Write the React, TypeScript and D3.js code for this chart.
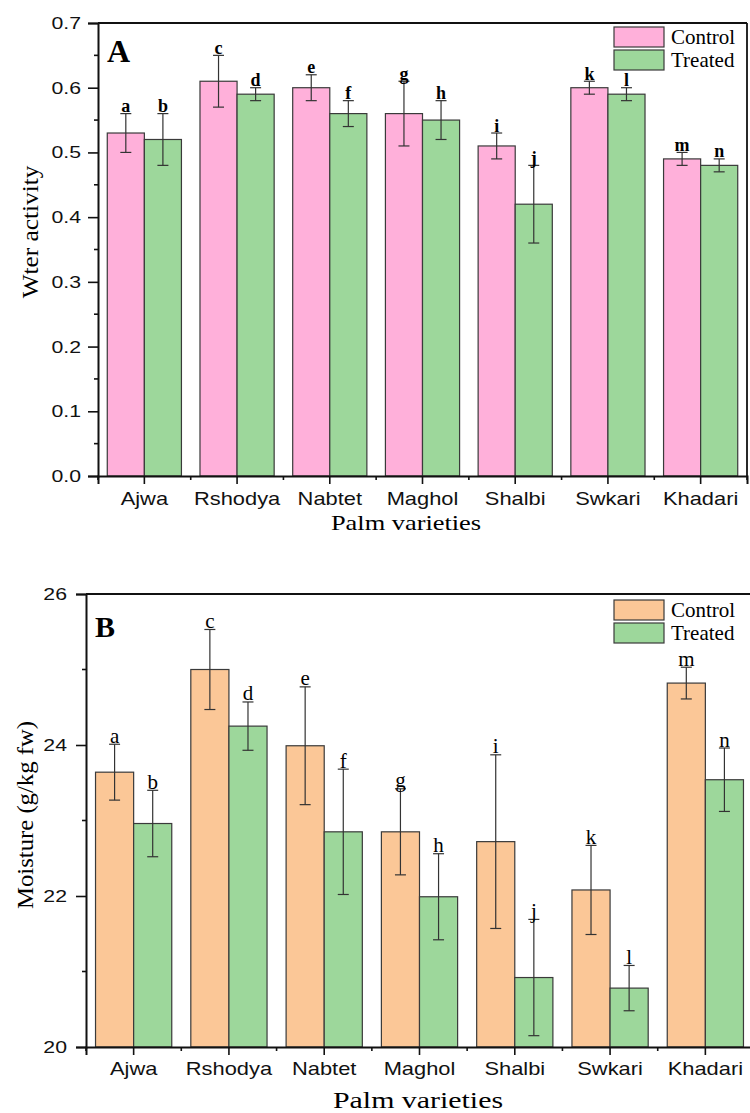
import { useEffect, useRef } from 'react';
import * as d3 from 'd3';

const varieties = ['Ajwa', 'Rshodya', 'Nabtet', 'Maghol', 'Shalbi', 'Swkari', 'Khadari'];
const seriesNames = ['Control', 'Treated'];

// Panel A - water activity
const awControl = [0.53, 0.61, 0.6, 0.56, 0.51, 0.6, 0.49];
const awControlErr = [0.03, 0.04, 0.02, 0.05, 0.02, 0.01, 0.01];
const awTreated = [0.52, 0.59, 0.56, 0.55, 0.42, 0.59, 0.48];
const awTreatedErr = [0.04, 0.01, 0.02, 0.03, 0.06, 0.01, 0.01];
const awLetters = [['a', 'b'], ['c', 'd'], ['e', 'f'], ['g', 'h'], ['i', 'j'], ['k', 'l'], ['m', 'n']];
const awTicks = [0, 0.1, 0.2, 0.3, 0.4, 0.5, 0.6, 0.7];

// Panel B - moisture
const mControl = [23.64, 25.0, 23.99, 22.85, 22.72, 22.08, 24.82];
const mControlErr = [0.37, 0.53, 0.78, 0.57, 1.15, 0.59, 0.21];
const mTreated = [22.96, 24.25, 22.85, 21.99, 20.92, 20.78, 23.54];
const mTreatedErr = [0.44, 0.32, 0.83, 0.57, 0.77, 0.3, 0.42];
const mLetters = awLetters;
const mTicks = [20, 22, 24, 26];

const SERIF = '"Liberation Serif", "Times New Roman", serif';
const SANS = '"Liberation Sans", Arial, sans-serif';

type PanelCfg = {
  left: number; right: number; top: number; bottom: number;
  domain: [number, number];
  ticks: number[];
  minorStep: number;
  fmt: (v: number) => string;
  control: number[]; controlErr: number[];
  treated: number[]; treatedErr: number[];
  letters: string[][];
  colors: [string, string];
  panelLabel: string; panelSize: number; panelDy: number;
  letterBold: boolean;
  letterSize: number;
  yTitle: string; yTitleX: number; yTitleY: number; yTitleSize: number; yTitleSx: number;
  xTitleX: number; xTitleY: number; xTitleSize: number; xTitleSx: number;
  yTickGap: number;
  xTickPad: number;
  legendY: number;
  frameRight: boolean;
};

const TICK_SX = 1.25;

function drawPanel(svg: d3.Selection<SVGSVGElement, unknown, null, undefined>, c: PanelCfg) {
  const g = svg.append('g');
  const x = d3.scaleBand().domain(varieties).range([c.left, c.right]).paddingInner(0).paddingOuter(0);
  const inner = d3.scaleBand().domain(seriesNames).range([0, x.bandwidth() * 0.8]);
  const off = x.bandwidth() * 0.1;
  const y = d3.scaleLinear().domain(c.domain).range([c.bottom, c.top]);

  const rows = varieties.map((v, i) => ({
    v, i,
    vals: [
      { s: 'Control', val: c.control[i], err: c.controlErr[i], letter: c.letters[i][0], col: c.colors[0] },
      { s: 'Treated', val: c.treated[i], err: c.treatedErr[i], letter: c.letters[i][1], col: c.colors[1] },
    ],
  }));

  const grp = g.selectAll('g.grp').data(rows).join('g')
    .attr('class', 'grp')
    .attr('transform', d => `translate(${(x(d.v) as number) + off},0)`);

  grp.selectAll('rect').data(d => d.vals).join('rect')
    .attr('x', d => inner(d.s) as number)
    .attr('width', inner.bandwidth())
    .attr('y', d => y(d.val))
    .attr('height', d => c.bottom - y(d.val))
    .attr('fill', d => d.col)
    .attr('stroke', '#3a3a3a')
    .attr('stroke-width', 1.2);

  const eb = grp.selectAll('g.eb').data(d => d.vals).join('g')
    .attr('class', 'eb')
    .attr('transform', d => `translate(${(inner(d.s) as number) + inner.bandwidth() / 2},0)`);
  eb.append('line')
    .attr('y1', d => y(d.val + d.err)).attr('y2', d => y(d.val - d.err))
    .attr('stroke', '#333').attr('stroke-width', 1.2);
  eb.append('line')
    .attr('x1', -5.5).attr('x2', 5.5)
    .attr('y1', d => y(d.val + d.err)).attr('y2', d => y(d.val + d.err))
    .attr('stroke', '#333').attr('stroke-width', 1.2);
  eb.append('line')
    .attr('x1', -5.5).attr('x2', 5.5)
    .attr('y1', d => y(d.val - d.err)).attr('y2', d => y(d.val - d.err))
    .attr('stroke', '#333').attr('stroke-width', 1.2);
  eb.append('text')
    .attr('y', d => y(d.val + d.err) - 1.5)
    .attr('text-anchor', 'middle')
    .style('font-family', SERIF)
    .style('font-size', `${c.letterSize}px`)
    .style('font-weight', c.letterBold ? 'bold' : 'normal')
    .text(d => d.letter);

  // frame
  g.append('line').attr('x1', c.left).attr('x2', c.right).attr('y1', c.top).attr('y2', c.top)
    .attr('stroke', '#111').attr('stroke-width', 1.8);
  if (c.frameRight) {
    g.append('line').attr('x1', c.right).attr('x2', c.right).attr('y1', c.top).attr('y2', c.bottom)
      .attr('stroke', '#111').attr('stroke-width', 1.8);
  }

  // y axis
  const minor = d3.range(c.domain[0] + c.minorStep, c.domain[1], c.minorStep * 2);
  const yAxis = g.append('g').attr('transform', `translate(${c.left},0)`)
    .call(d3.axisLeft(y).tickValues(c.ticks).tickFormat(d => c.fmt(d as number)).tickSize(10));
  yAxis.select('.domain').attr('stroke', '#111').attr('stroke-width', 2);
  yAxis.selectAll('.tick line').attr('stroke', '#111').attr('stroke-width', 1.6);
  yAxis.selectAll('text')
    .attr('x', -c.yTickGap / TICK_SX)
    .attr('transform', `scale(${TICK_SX},1)`)
    .style('font-family', SANS).style('font-size', '17px').attr('fill', '#111');
  g.append('g').selectAll('line').data(minor).join('line')
    .attr('x1', c.left - 4).attr('x2', c.left)
    .attr('y1', d => y(d)).attr('y2', d => y(d))
    .attr('stroke', '#111').attr('stroke-width', 1.6);

  // x axis
  const xAxis = g.append('g').attr('transform', `translate(0,${c.bottom})`)
    .call(d3.axisBottom(x).tickSize(8).tickPadding(c.xTickPad));
  xAxis.select('.domain').attr('stroke', '#111').attr('stroke-width', 2);
  xAxis.selectAll('.tick line').attr('stroke', '#111').attr('stroke-width', 1.6);
  xAxis.selectAll('text')
    .attr('transform', `scale(${TICK_SX},1)`)
    .style('font-family', SANS).style('font-size', '17.5px').attr('fill', '#111');
  const bounds = varieties.map(v => x(v) as number).concat([c.right]);
  g.append('g').selectAll('line').data(bounds).join('line')
    .attr('x1', d => d).attr('x2', d => d)
    .attr('y1', c.bottom).attr('y2', c.bottom + 4)
    .attr('stroke', '#111').attr('stroke-width', 1.6);

  // titles
  g.append('text')
    .attr('transform', `translate(${c.yTitleX},${c.yTitleY}) rotate(-90) scale(${c.yTitleSx},1)`)
    .attr('text-anchor', 'middle')
    .style('font-family', SERIF).style('font-size', `${c.yTitleSize}px`)
    .text(c.yTitle);
  g.append('text')
    .attr('transform', `translate(${c.xTitleX},${c.xTitleY}) scale(${c.xTitleSx},1)`)
    .attr('text-anchor', 'middle')
    .style('font-family', SERIF).style('font-size', `${c.xTitleSize}px`)
    .text('Palm varieties');
  g.append('text')
    .attr('x', c.left + 9).attr('y', c.top + c.panelDy)
    .style('font-family', SERIF).style('font-size', `${c.panelSize}px`).style('font-weight', 'bold')
    .text(c.panelLabel);

  // legend
  const lg = g.append('g').attr('transform', `translate(614,${c.legendY})`);
  seriesNames.forEach((s, i) => {
    lg.append('rect')
      .attr('x', 0).attr('y', i * 23).attr('width', 50).attr('height', 20)
      .attr('fill', c.colors[i]).attr('stroke', '#3a3a3a').attr('stroke-width', 1.2);
    lg.append('text')
      .attr('x', 57).attr('y', i * 23 + 17)
      .style('font-family', SERIF).style('font-size', '21px')
      .text(s);
  });
}

export default function App() {
  const ref = useRef<SVGSVGElement>(null);

  useEffect(() => {
    const svg = d3.select(ref.current as SVGSVGElement);
    svg.selectAll('*').remove();

    drawPanel(svg, {
      left: 98, right: 747, top: 23, bottom: 476,
      domain: [0, 0.7], ticks: awTicks, minorStep: 0.05, fmt: d3.format('.1f'),
      control: awControl, controlErr: awControlErr,
      treated: awTreated, treatedErr: awTreatedErr,
      letters: awLetters, colors: ['#ffb0da', '#9dd79b'],
      panelLabel: 'A', panelSize: 32, panelDy: 39, letterBold: true, letterSize: 18,
      yTitle: 'Wter activity', yTitleX: 38, yTitleY: 232, yTitleSize: 23, yTitleSx: 1.1,
      xTitleX: 406, xTitleY: 530, xTitleSize: 22, xTitleSx: 1.2,
      yTickGap: 17, xTickPad: 9, legendY: 27, frameRight: true,
    });

    drawPanel(svg, {
      left: 86, right: 753, top: 594, bottom: 1047,
      domain: [20, 26], ticks: mTicks, minorStep: 1, fmt: d3.format('d'),
      control: mControl, controlErr: mControlErr,
      treated: mTreated, treatedErr: mTreatedErr,
      letters: mLetters, colors: ['#fbc797', '#9dd79b'],
      panelLabel: 'B', panelSize: 30, panelDy: 43, letterBold: false, letterSize: 21,
      yTitle: 'Moisture (g/kg fw)', yTitleX: 33, yTitleY: 815, yTitleSize: 24, yTitleSx: 1.03,
      xTitleX: 418, xTitleY: 1108, xTitleSize: 23, xTitleSx: 1.3,
      yTickGap: 19, xTickPad: 8, legendY: 600, frameRight: false,
    });
  }, []);

  return (
    <svg ref={ref} width={750} height={1113}
      style={{ position: 'absolute', left: 0, top: 0, background: '#fff' }} />
  );
}
